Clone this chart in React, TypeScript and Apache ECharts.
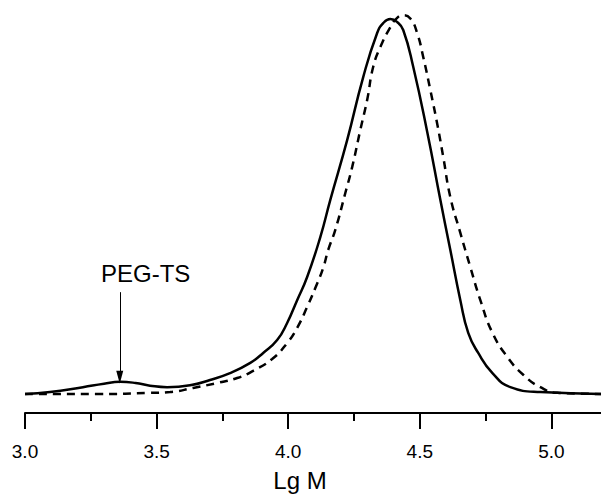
import React, { useEffect, useRef } from "react";
import * as echarts from "echarts";

// Solid curve (Lg M, normalized intensity)
const solidX = [3.0, 3.095, 3.22, 3.3, 3.361, 3.42, 3.475, 3.54, 3.627, 3.703, 3.779, 3.856, 3.905, 3.958, 3.996, 4.034, 4.072, 4.122, 4.16, 4.224, 4.285, 4.338, 4.361, 4.388, 4.414, 4.437, 4.475, 4.529, 4.578, 4.616, 4.654, 4.684, 4.722, 4.776, 4.844, 4.958, 5.22];
const solidY = [0.0, 0.005, 0.018, 0.027, 0.032, 0.029, 0.022, 0.018, 0.023, 0.037, 0.055, 0.082, 0.108, 0.142, 0.187, 0.247, 0.308, 0.413, 0.511, 0.668, 0.834, 0.95, 0.976, 0.987, 0.979, 0.958, 0.861, 0.687, 0.511, 0.379, 0.247, 0.161, 0.108, 0.055, 0.018, 0.005, 0.0];

// Dashed curve
const dashedX = [3.0, 3.285, 3.475, 3.551, 3.639, 3.73, 3.806, 3.867, 3.939, 3.996, 4.034, 4.072, 4.103, 4.133, 4.152, 4.179, 4.217, 4.243, 4.274, 4.3, 4.323, 4.35, 4.388, 4.414, 4.437, 4.464, 4.49, 4.513, 4.54, 4.567, 4.589, 4.616, 4.654, 4.692, 4.73, 4.776, 4.833, 4.894, 4.958, 5.023, 5.22];
const dashedY = [0.0, 0.0, 0.003, 0.005, 0.016, 0.029, 0.042, 0.061, 0.092, 0.134, 0.174, 0.229, 0.279, 0.332, 0.379, 0.432, 0.529, 0.597, 0.695, 0.774, 0.861, 0.913, 0.965, 0.99, 0.997, 0.988, 0.95, 0.887, 0.8, 0.708, 0.624, 0.518, 0.424, 0.334, 0.247, 0.161, 0.097, 0.05, 0.018, 0.003, 0.0];

// Annotation arrow
const annotationLabel = "PEG-TS";
const arrowX = 3.36;
const arrowFromY = 0.268;
const arrowToY = 0.044;

const axisTitle = "Lg M";

const FONT = "'Liberation Sans', Arial, sans-serif";

export default function App() {
  const ref = useRef<HTMLDivElement>(null);
  useEffect(() => {
    document.body.style.margin = "0";
    const chart = echarts.init(ref.current!, null, { renderer: "svg" });
    const solid = solidX.map((x, i) => [x, solidY[i]]);
    const dashed = dashedX.map((x, i) => [x, dashedY[i]]);
    chart.setOption({
      animation: false,
      backgroundColor: "#ffffff",
      grid: { left: 25, right: 0, top: 14, bottom: 81, containLabel: false },
      xAxis: {
        type: "value",
        min: 3.0,
        max: 5.5,
        interval: 0.5,
        axisLine: { show: true, onZero: false, lineStyle: { color: "#000", width: 2 } },
        axisTick: { show: true, length: 16, lineStyle: { color: "#000", width: 2 } },
        minorTick: { show: true, splitNumber: 2, length: 8, lineStyle: { color: "#000", width: 2 } },
        axisLabel: {
          fontFamily: FONT,
          fontSize: 19,
          color: "#000",
          margin: 29,
          formatter: (v: number) => v.toFixed(1),
          showMaxLabel: false,
        },
        splitLine: { show: false },
        minorSplitLine: { show: false },
      },
      yAxis: {
        type: "value",
        min: -0.05,
        max: 1.0,
        show: false,
        splitLine: { show: false },
      },
      series: [
        {
          type: "line",
          data: solid,
          smooth: 0.5,
          symbol: "none",
          lineStyle: { color: "#000", width: 2.5 },
          markLine: {
            silent: true,
            symbol: ["none", "triangle"],
            symbolSize: [7, 13],
            symbolRotate: 180,
            lineStyle: { color: "#000", width: 1, type: "solid" },
            label: { show: false },
            data: [[{ coord: [arrowX, arrowFromY] }, { coord: [arrowX, arrowToY] }]],
          },
        },
        {
          type: "line",
          data: dashed,
          smooth: 0.5,
          symbol: "none",
          lineStyle: { color: "#000", width: 2.5, type: [8, 6] },
        },
      ],
      graphic: [
        {
          type: "text",
          x: 101,
          y: 273,
          style: { text: annotationLabel, font: `24px ${FONT}`, fill: "#000", textAlign: "left", textVerticalAlign: "middle" },
        },
        {
          type: "text",
          x: 300,
          y: 480,
          style: { text: axisTitle, font: `24px ${FONT}`, fill: "#000", textAlign: "center", textVerticalAlign: "middle" },
        },
      ],
    });
    return () => chart.dispose();
  }, []);
  return (
    <div style={{ width: 601, height: 494, overflow: "hidden", position: "relative" }}>
      <div ref={ref} style={{ width: 683, height: 494 }} />
    </div>
  );
}
